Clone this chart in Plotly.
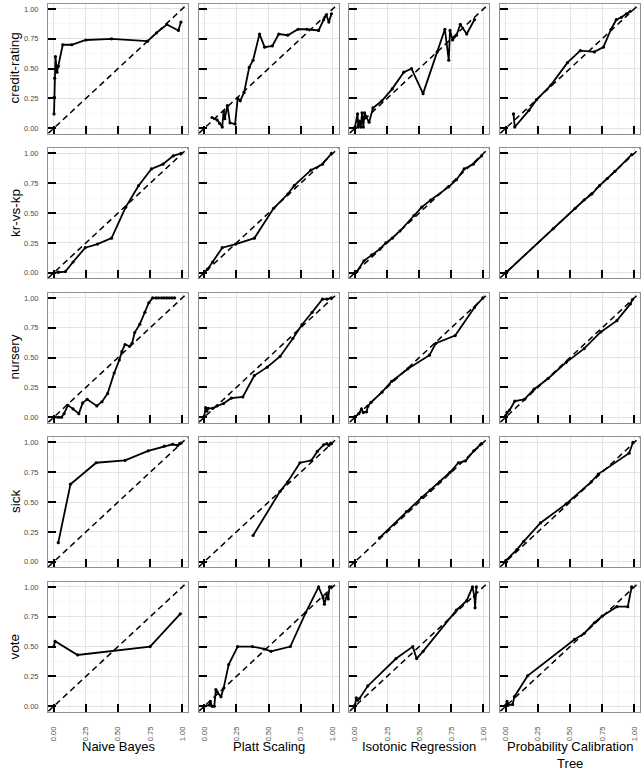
import plotly.graph_objects as go

# ---------------- data ----------------
datasets = ["credit-rating", "kr-vs-kp", "nursery", "sick", "vote"]
methods = ["Naive Bayes", "Platt Scaling", "Isotonic Regression", "Probability Calibration<br>Tree"]
tick_vals = [0, 0.25, 0.5, 0.75, 1.0]
tick_text = ["0.00", "0.25", "0.50", "0.75", "1.00"]
diag = [-0.1, 1.1]

# credit-rating
cr_nb_x = [0.002, 0.004, 0.007, 0.013, 0.025, 0.035, 0.07, 0.14, 0.25, 0.45, 0.73, 0.80, 0.88, 0.97, 0.99]
cr_nb_y = [0.12, 0.26, 0.42, 0.60, 0.47, 0.52, 0.70, 0.70, 0.74, 0.75, 0.73, 0.80, 0.87, 0.82, 0.89]
cr_ps_x = [0.06, 0.10, 0.12, 0.14, 0.15, 0.16, 0.18, 0.20, 0.24, 0.26, 0.28, 0.31, 0.35, 0.38, 0.43, 0.47, 0.53, 0.58, 0.65, 0.73, 0.80, 0.89, 0.93, 0.95, 0.97, 0.99]
cr_ps_y = [0.09, 0.07, 0.04, 0.01, 0.14, 0.08, 0.19, 0.045, 0.035, 0.25, 0.23, 0.30, 0.51, 0.57, 0.79, 0.68, 0.69, 0.79, 0.78, 0.83, 0.83, 0.82, 0.91, 0.95, 0.89, 0.96]
cr_ir_x = [0.0, 0.02, 0.025, 0.035, 0.045, 0.055, 0.065, 0.075, 0.085, 0.11, 0.14, 0.21, 0.29, 0.38, 0.44, 0.53, 0.64, 0.70, 0.73, 0.74, 0.76, 0.79, 0.82, 0.87, 0.93]
cr_ir_y = [0.01, 0.12, 0.01, 0.06, 0.01, 0.13, 0.01, 0.13, 0.10, 0.05, 0.17, 0.23, 0.33, 0.47, 0.50, 0.29, 0.64, 0.83, 0.57, 0.82, 0.74, 0.78, 0.87, 0.79, 0.91]
cr_pct_x = [0.06, 0.07, 0.18, 0.24, 0.35, 0.48, 0.58, 0.69, 0.76, 0.82, 0.86, 0.90, 0.94, 0.97]
cr_pct_y = [0.12, 0.01, 0.15, 0.24, 0.36, 0.55, 0.65, 0.64, 0.68, 0.83, 0.91, 0.93, 0.96, 0.98]

# kr-vs-kp
kr_nb_x = [0.0, 0.035, 0.09, 0.15, 0.245, 0.34, 0.45, 0.56, 0.66, 0.76, 0.85, 0.93, 0.99]
kr_nb_y = [0.0, 0.005, 0.01, 0.09, 0.21, 0.24, 0.29, 0.55, 0.73, 0.87, 0.91, 0.98, 1.0]
kr_ps_x = [0.0, 0.025, 0.065, 0.14, 0.245, 0.39, 0.54, 0.65, 0.70, 0.83, 0.92, 0.99]
kr_ps_y = [0.0, 0.03, 0.09, 0.21, 0.24, 0.29, 0.54, 0.66, 0.73, 0.86, 0.91, 1.0]
kr_ir_x = [0.0, 0.015, 0.07, 0.13, 0.195, 0.24, 0.29, 0.35, 0.46, 0.52, 0.59, 0.73, 0.79, 0.85, 0.92, 0.985]
kr_ir_y = [0.0, 0.01, 0.10, 0.15, 0.20, 0.25, 0.29, 0.35, 0.48, 0.55, 0.61, 0.72, 0.78, 0.87, 0.91, 0.98]
kr_pct_x = [0.0, 0.01, 0.37, 0.54, 0.61, 0.67, 0.73, 0.79, 0.85, 0.98]
kr_pct_y = [0.0, 0.01, 0.37, 0.54, 0.61, 0.66, 0.73, 0.79, 0.85, 0.99]

# nursery
nu_nb_x = [0.0, 0.035, 0.06, 0.08, 0.11, 0.15, 0.195, 0.225, 0.26, 0.335, 0.375, 0.42, 0.47, 0.51, 0.53, 0.555, 0.59, 0.61, 0.63, 0.67, 0.71, 0.74, 0.77, 0.795, 0.815, 0.84, 0.86, 0.88, 0.90, 0.92, 0.94]
nu_nb_y = [0.0, 0.0, 0.0, 0.03, 0.10, 0.07, 0.03, 0.12, 0.15, 0.095, 0.13, 0.20, 0.37, 0.48, 0.55, 0.61, 0.595, 0.62, 0.71, 0.78, 0.88, 0.96, 1.0, 1.0, 1.0, 1.0, 1.0, 1.0, 1.0, 1.0, 1.0]
nu_ps_x = [0.0, 0.01, 0.02, 0.03, 0.065, 0.10, 0.15, 0.21, 0.30, 0.39, 0.49, 0.59, 0.69, 0.76, 0.84, 0.92, 0.955, 0.99]
nu_ps_y = [0.01, 0.08, 0.05, 0.075, 0.075, 0.095, 0.115, 0.16, 0.17, 0.35, 0.42, 0.51, 0.66, 0.775, 0.88, 0.99, 0.99, 1.0]
nu_ir_x = [0.0, 0.03, 0.05, 0.065, 0.09, 0.10, 0.125, 0.21, 0.285, 0.41, 0.58, 0.63, 0.78, 0.93, 0.995]
nu_ir_y = [0.005, 0.03, 0.07, 0.04, 0.045, 0.09, 0.125, 0.21, 0.30, 0.405, 0.52, 0.62, 0.685, 0.92, 1.0]
nu_pct_x = [0.0, 0.01, 0.03, 0.07, 0.145, 0.22, 0.33, 0.47, 0.61, 0.74, 0.865, 0.97, 0.985]
nu_pct_y = [0.015, 0.04, 0.06, 0.135, 0.15, 0.235, 0.325, 0.46, 0.575, 0.715, 0.81, 0.95, 0.985]

# sick
si_nb_x = [0.035, 0.13, 0.33, 0.555, 0.735, 0.86, 0.925, 0.965, 0.98, 0.99]
si_nb_y = [0.16, 0.65, 0.83, 0.85, 0.93, 0.97, 0.985, 0.975, 0.99, 0.995]
si_ps_x = [0.38, 0.59, 0.65, 0.745, 0.835, 0.88, 0.93, 0.955, 0.97, 0.985, 0.99]
si_ps_y = [0.22, 0.59, 0.67, 0.83, 0.85, 0.925, 0.98, 0.99, 0.975, 0.995, 0.99]
si_ir_x = [0.19, 0.40, 0.52, 0.585, 0.66, 0.74, 0.805, 0.86, 0.925, 0.975, 0.985]
si_ir_y = [0.20, 0.42, 0.54, 0.60, 0.67, 0.75, 0.83, 0.845, 0.93, 0.98, 0.99]
si_pct_x = [0.0, 0.085, 0.14, 0.27, 0.47, 0.665, 0.72, 0.96, 0.99]
si_pct_y = [0.01, 0.10, 0.17, 0.325, 0.485, 0.67, 0.735, 0.91, 1.0]

# vote
vo_nb_x = [0.0, 0.01, 0.185, 0.75, 0.985]
vo_nb_y = [0.50, 0.545, 0.43, 0.50, 0.775]
vo_ps_x = [0.0, 0.04, 0.047, 0.06, 0.078, 0.09, 0.10, 0.13, 0.15, 0.19, 0.26, 0.375, 0.465, 0.52, 0.67, 0.79, 0.89, 0.925, 0.935, 0.955, 0.965, 0.975, 0.99]
vo_ps_y = [0.0, 0.01, 0.04, 0.0, 0.0, 0.14, 0.12, 0.08, 0.15, 0.35, 0.50, 0.50, 0.48, 0.46, 0.50, 0.785, 1.0, 0.91, 0.855, 0.935, 0.90, 1.0, 1.0]
vo_ir_x = [0.0, 0.01, 0.02, 0.035, 0.10, 0.32, 0.45, 0.48, 0.53, 0.79, 0.87, 0.915, 0.93, 0.935, 0.945]
vo_ir_y = [0.01, 0.07, 0.05, 0.065, 0.17, 0.40, 0.50, 0.40, 0.46, 0.805, 0.885, 1.0, 0.92, 0.825, 1.0]
vo_pct_x = [0.0, 0.01, 0.02, 0.053, 0.067, 0.17, 0.535, 0.61, 0.69, 0.75, 0.865, 0.95, 0.98]
vo_pct_y = [0.01, 0.04, 0.01, 0.015, 0.08, 0.255, 0.56, 0.61, 0.70, 0.755, 0.835, 0.835, 1.0]

panels = [
    [(cr_nb_x, cr_nb_y), (cr_ps_x, cr_ps_y), (cr_ir_x, cr_ir_y), (cr_pct_x, cr_pct_y)],
    [(kr_nb_x, kr_nb_y), (kr_ps_x, kr_ps_y), (kr_ir_x, kr_ir_y), (kr_pct_x, kr_pct_y)],
    [(nu_nb_x, nu_nb_y), (nu_ps_x, nu_ps_y), (nu_ir_x, nu_ir_y), (nu_pct_x, nu_pct_y)],
    [(si_nb_x, si_nb_y), (si_ps_x, si_ps_y), (si_ir_x, si_ir_y), (si_pct_x, si_pct_y)],
    [(vo_nb_x, vo_nb_y), (vo_ps_x, vo_ps_y), (vo_ir_x, vo_ir_y), (vo_pct_x, vo_pct_y)],
]

# ---------------- layout geometry (pixels) ----------------
W, H = 642, 773
col_left = [48, 198.5, 349.2, 500]
col_w = 140
row_top = [3.6, 148.1, 292.6, 437.1, 581.6]
row_h = 130
rng = [-0.045, 1.045]
FONT = "Liberation Sans, Arial, Helvetica, sans-serif"

fig = go.Figure()
layout = {}
for r in range(5):
    for c in range(4):
        i = r * 4 + c + 1
        xs, ys = panels[r][c]
        xa = "x" if i == 1 else f"x{i}"
        ya = "y" if i == 1 else f"y{i}"
        fig.add_trace(go.Scatter(x=diag, y=diag, mode="lines", xaxis=xa, yaxis=ya,
                                 line=dict(color="black", width=1.5, dash="6px,4px"),
                                 hoverinfo="skip", showlegend=False))
        fig.add_trace(go.Scatter(x=xs, y=ys, mode="lines+markers", xaxis=xa, yaxis=ya,
                                 line=dict(color="black", width=1.8),
                                 marker=dict(color="black", size=3.2),
                                 showlegend=False))
        x0 = col_left[c] / W
        x1 = (col_left[c] + col_w) / W
        y1 = 1 - row_top[r] / H
        y0 = 1 - (row_top[r] + row_h) / H
        common = dict(range=rng, tickvals=tick_vals, ticktext=tick_text,
                      ticks="inside", ticklen=8, tickwidth=2, tickcolor="black",
                      showline=True, mirror=True, linecolor="#8f8f8f", linewidth=1,
                      showgrid=True, gridcolor="#e3e3e3", gridwidth=1,
                      minor=dict(dtick=0.125, tick0=0, showgrid=True, gridcolor="#f1f1f1", gridwidth=0.6, ticks=""),
                      zeroline=False, fixedrange=True,
                      tickfont=dict(family=FONT, size=7.5, color="#4d4d4d"))
        kx = "xaxis" if i == 1 else f"xaxis{i}"
        ky = "yaxis" if i == 1 else f"yaxis{i}"
        layout[kx] = dict(common, domain=[x0, x1], anchor=ya,
                          showticklabels=(r == 4), tickangle=-90, ticklabelstandoff=11)
        layout[ky] = dict(common, domain=[y0, y1], anchor=xa,
                          showticklabels=(c == 0), ticklabelstandoff=7)

annotations = []
for r, name in enumerate(datasets):
    yc = 1 - (row_top[r] + row_h / 2) / H
    annotations.append(dict(text=name, x=15 / W, y=yc, xref="paper", yref="paper",
                            textangle=-90, showarrow=False, xanchor="center", yanchor="middle",
                            font=dict(family=FONT, size=13.5, color="black")))
for c, name in enumerate(methods):
    xc = (col_left[c] + col_w / 2) / W
    annotations.append(dict(text=name, x=xc, y=1 - 737 / H, xref="paper", yref="paper",
                            showarrow=False, xanchor="center", yanchor="top",
                            font=dict(family=FONT, size=13, color="black")))

fig.update_layout(width=W, height=H, margin=dict(l=0, r=0, t=0, b=0),
                  paper_bgcolor="white", plot_bgcolor="white",
                  annotations=annotations, showlegend=False, **layout)
fig.write_html("out.html", config={"displayModeBar": False, "staticPlot": True},
               post_script="document.body.style.margin='0';document.body.style.padding='0';document.body.style.overflow='hidden';")
